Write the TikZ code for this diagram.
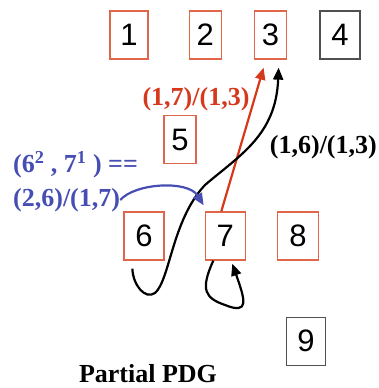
\documentclass[tikz,border=0pt]{standalone}
\usepackage{fontspec}
\setmainfont{Liberation Serif}
\newfontfamily\numfont{Liberation Sans}
\usepackage{xcolor}
\usepackage{tikz}
\usetikzlibrary{arrows.meta, positioning}
\definecolor{boxred}{RGB}{224,102,74}
\definecolor{edgered}{RGB}{214,56,28}
\definecolor{edgeblue}{RGB}{70,78,180}
\definecolor{boxgray}{RGB}{80,80,80}

\begin{document}
\begin{tikzpicture}[
  x=1pt, y=-1pt,
  stmt/.style={draw=boxred, line width=1.3pt, minimum width=34pt, minimum height=48pt, inner sep=0pt, font=\numfont\fontsize{31}{31}\selectfont},
  plain/.style={stmt, draw=boxgray},
  lbl/.style={font=\bfseries\fontsize{26}{30}\selectfont, inner sep=0pt},
  arr/.style={-{Triangle[length=12pt, width=10pt]}, line width=2.2pt}
]
\useasboundingbox (0,0) rectangle (378,388);

% statements, top row
\node[stmt, minimum width=38pt] (n1) at (129,35) {1};
\node[stmt, minimum width=32pt, right=40pt of n1] (n2) {2};
\node[stmt, minimum width=32pt, right=32pt of n2] (n3) {3};
\node[plain, minimum width=40pt, right=32pt of n3] (n4) {4};

% statements, lower rows
\node[stmt, minimum width=40pt] (n6) at (144,236) {6};
\node[stmt, minimum width=40pt, right=40pt of n6] (n7) {7};
\node[stmt, minimum width=41pt, right=31pt of n7] (n8) {8};
\node[stmt, minimum width=32pt, above=47pt of n6, xshift=36pt] (n5) {5};
\node[plain, minimum width=39pt, below=56pt of n8, xshift=8pt] (n9) {9};

% edge labels
\node[lbl, text=edgered] (lab73) at (196,99) {(1,7)/(1,3)};
\node[lbl, anchor=east] (lab63) at (377,147) {(1,6)/(1,3)};
\node[lbl, text=edgeblue, anchor=west] (pair1) at (13,165) {(6\textsuperscript{2} , 7\textsuperscript{1} ) ==};
\node[lbl, text=edgeblue, anchor=west] (pair2) at (13,200) {(2,6)/(1,7)};
\node[lbl] (title) at (148,374) {Partial PDG};

\coordinate (tail6) at ([xshift=9pt,yshift=-8pt]n6.south west);

\draw[arr, edgered] ([xshift=-4pt]n7.north) -- ([xshift=-7pt,yshift=-8pt]n3.south);
\draw[arr] (tail6) .. controls (133,285) and (145,300) .. (155,293)
  .. controls (170,280) and (172,220) .. (205,185)
  .. controls (240,155) and (276,135) .. ([xshift=8pt,yshift=-8pt]n3.south);
\draw[arr] ([xshift=-12pt]n7.south) .. controls (200,290) and (205,298) .. (225,305)
  .. controls (250,315) and (245,300) .. ([xshift=7pt,yshift=-3pt]n7.south);
\draw[arr, edgeblue] (pair2.east) .. controls (135,183) and (188,180) .. ([xshift=-1pt,yshift=6pt]n7.north west);
\end{tikzpicture}
\end{document}
